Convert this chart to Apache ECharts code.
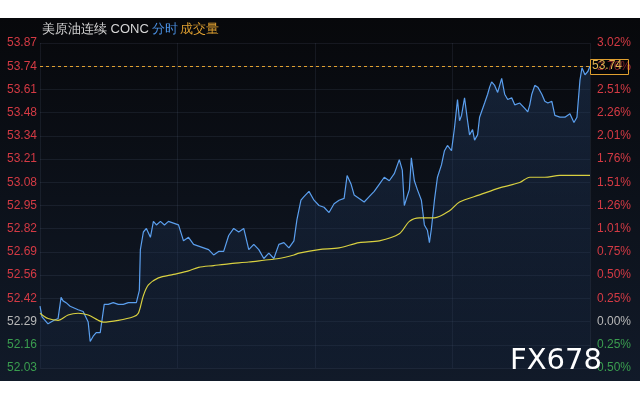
<!DOCTYPE html>
<html><head><meta charset="utf-8">
<script src="https://cdn.jsdelivr.net/npm/echarts@6/dist/echarts.min.js"></script>
<style>html,body{margin:0;background:#fff}#c{width:640px;height:400px}</style>
</head><body><div id="c"></div>
<script>
const lastPrice = 53.74;
const priceMin = 52.03, priceMax = 53.87;
const priceTime = [0,2,5,8,11,14,18,21,23,26,30,34,38,43,48,50,53,56,60,64,68,73,78,83,88,93,96,99,100,103,106,110,113,116,120,124,128,133,138,143,148,153,158,163,168,173,178,183,188,193,198,203,208,213,218,223,228,233,238,243,248,253,256,260,263,268,273,278,283,288,293,298,303,306,310,313,318,323,328,333,338,343,348,353,358,361,363,368,370,373,376,380,383,386,388,390,393,396,400,403,406,410,413,416,418,420,423,426,428,431,433,436,438,443,446,448,450,453,456,458,460,463,466,470,473,478,483,486,488,490,493,496,500,503,506,510,513,518,523,528,532,535,538,540,543,546,548];
const priceVals = [52.38,52.32,52.30,52.28,52.29,52.30,52.31,52.43,52.41,52.40,52.38,52.37,52.36,52.35,52.29,52.18,52.21,52.23,52.23,52.39,52.39,52.40,52.39,52.39,52.40,52.40,52.40,52.47,52.70,52.80,52.82,52.77,52.86,52.84,52.86,52.84,52.86,52.85,52.84,52.75,52.77,52.73,52.72,52.71,52.70,52.67,52.69,52.69,52.78,52.82,52.80,52.82,52.70,52.73,52.70,52.65,52.68,52.65,52.73,52.74,52.71,52.75,52.87,52.98,53.00,53.03,52.98,52.95,52.94,52.91,52.96,52.98,52.99,53.12,53.07,53.01,52.99,52.97,53.00,53.03,53.07,53.11,53.09,53.13,53.21,53.15,52.95,53.04,53.22,53.09,53.04,52.98,52.84,52.81,52.74,52.82,52.98,53.11,53.18,53.26,53.29,53.26,53.39,53.55,53.43,53.46,53.56,53.43,53.35,53.38,53.32,53.35,53.45,53.53,53.58,53.62,53.65,53.63,53.59,53.63,53.67,53.58,53.55,53.56,53.52,53.53,53.50,53.48,53.52,53.58,53.63,53.62,53.58,53.54,53.53,53.54,53.46,53.45,53.45,53.47,53.42,53.45,53.66,53.73,53.69,53.71,53.74];
const avgTime = [0,8,18,28,38,48,58,63,78,93,98,103,108,118,133,148,158,173,188,208,223,238,253,258,278,298,318,338,358,368,378,393,408,418,438,458,478,488,503,518,548];
const avgVals = [52.34,52.31,52.30,52.33,52.34,52.33,52.30,52.29,52.30,52.32,52.34,52.44,52.50,52.54,52.56,52.58,52.60,52.61,52.62,52.63,52.64,52.65,52.67,52.68,52.70,52.71,52.74,52.75,52.79,52.86,52.88,52.88,52.92,52.97,53.01,53.05,53.08,53.11,53.11,53.12,53.12];
const step = (priceMax-priceMin)/14;
const baseClose = priceMin + 2*step;
const zip = (a,b)=>a.map((t,i)=>[t,b[i]]);
const chart = echarts.init(document.getElementById('c'));
const pctColor = v => Math.abs(v-baseClose)<0.005 ? '#b8b8b8' : (v>baseClose ? '#d43a44' : '#3a9d4f');
chart.setOption({
  animation:false,
  graphic:[
    {type:'rect',z:-10,shape:{x:0,y:18,width:640,height:363},style:{fill:{type:'linear',x:0,y:0,x2:0,y2:1,colorStops:[{offset:0,color:'#07080b'},{offset:1,color:'#111a29'}]}}},
    {type:'text',left:42,top:23,style:{rich:{a:{fill:'#d6d6d6',fontSize:13},b:{fill:'#4a8fe0',fontSize:13},c:{fill:'#e0a030',fontSize:13}},text:'{a|美原油连续 CONC} {b|分时} {c|成交量}',fontFamily:'Noto Sans CJK SC'}},
    {type:'text',left:510,top:347,z:100,style:{text:'FX678',fill:'#ffffff',fontSize:29,fontFamily:'DejaVu Sans',letterSpacing:3}},
    {type:'rect',left:590,top:59,z:50,shape:{width:38,height:15},style:{fill:'rgba(0,0,0,0.4)',stroke:'#e0a030',lineWidth:1}},
    {type:'text',left:592,top:60,z:51,style:{text:lastPrice.toFixed(2),fill:'#e0b050',fontSize:12,fontFamily:'Liberation Sans'}}
  ],
  grid:{left:40,right:50,top:43,bottom:32},
  xAxis:{type:'value',min:0,max:548,interval:137,axisLine:{show:false},axisTick:{show:false},axisLabel:{show:false},splitLine:{lineStyle:{color:'rgba(120,140,170,0.12)'}}},
  yAxis:[
    {type:'value',min:priceMin,max:priceMax,interval:step,position:'left',
     axisLine:{show:false},axisTick:{show:false},splitLine:{lineStyle:{color:'rgba(120,140,170,0.12)'}},
     axisLabel:{margin:3,fontSize:12,fontFamily:'Liberation Sans',formatter:v=>v.toFixed(2),color:v=>pctColor(v)}},
    {type:'value',min:priceMin,max:priceMax,interval:step,position:'right',
     axisLine:{show:false},axisTick:{show:false},splitLine:{show:false},
     axisLabel:{margin:7,fontSize:12,fontFamily:'Liberation Sans',formatter:v=>Math.abs((v/baseClose-1)*100).toFixed(2)+'%',color:v=>pctColor(v)}}
  ],
  series:[
    {type:'line',data:zip(priceTime,priceVals),symbol:'none',lineStyle:{color:'#5b9fee',width:1.2},
     areaStyle:{origin:'start',color:{type:'linear',x:0,y:0,x2:0,y2:1,colorStops:[{offset:0,color:'rgba(40,70,115,0.55)'},{offset:1,color:'rgba(20,35,60,0.35)'}]}},
     markLine:{silent:true,symbol:'none',label:{show:false},lineStyle:{color:'#e0a030',type:[3,3],width:1},data:[{yAxis:lastPrice}]}},
    {type:'line',data:zip(avgTime,avgVals),symbol:'none',smooth:0.3,lineStyle:{color:'#d8d040',width:1.2}}
  ]
});
</script></body></html>
